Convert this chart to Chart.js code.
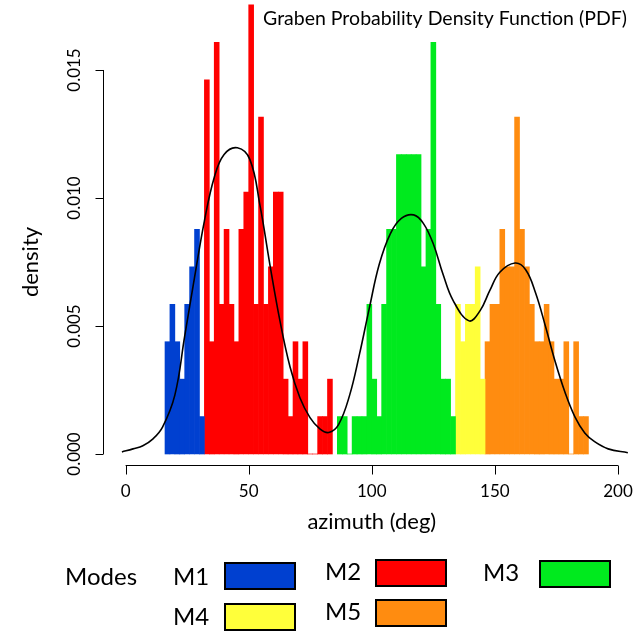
<!DOCTYPE html>
<html>
<head>
<meta charset="utf-8">
<script src="https://cdn.jsdelivr.net/npm/chart.js@4.4.1/dist/chart.umd.min.js"></script>
<style>
  html, body { margin: 0; padding: 0; background: #fff; }
  #wrap { width: 634px; height: 634px; }
</style>
</head>
<body>
<div id="wrap"><canvas id="pdf-chart" width="634" height="634"></canvas></div>
<script>
// histogram counts per mode, 2 degree bins starting at each mode's first edge
const binWidth = 2;
const modeNames = ["M1", "M2", "M3", "M4", "M5"];
const modeColors = ["#0040D0", "#FF0000", "#00EA1E", "#FFFF3A", "#FF8C10"];
const modeStarts = [16, 32, 86, 134, 146];
const m1Counts = [3, 4, 3, 2, 4, 5, 6, 1];
const m2Counts = [10, 3, 11, 4, 6, 4, 3, 6, 7, 12, 4, 9, 4, 5, 7, 7, 2, 1, 3, 2, 3, 0, 0, 1, 1, 2];
const m3Counts = [1, 1, 0, 1, 1, 1, 4, 2, 1, 4, 6, 6, 8, 8, 8, 8, 8, 5, 6, 11, 4, 2, 2, 1];
const m4Counts = [4, 3, 4, 4, 5, 2];
const m5Counts = [3, 4, 4, 6, 5, 5, 9, 6, 5, 4, 3, 3, 4, 3, 2, 2, 3, 0, 3, 1, 1];

// density curve
const curveX = [-1.5, 3, 7, 11, 15, 20, 24, 28, 32, 36, 40, 45.4, 50.5, 54.6, 58.6, 62.7, 66.8, 70.8, 74.9, 78.9, 82.5, 86.5, 91, 95, 99, 103, 107.5, 112, 117, 121, 125, 129, 133, 139.5, 144, 148, 152, 158.2, 162.5, 166.5, 170.5, 174.5, 178.5, 182.5, 186.5, 190.5, 196, 204];
const curveY = [0.00008, 0.0002, 0.00032, 0.00058, 0.00105, 0.0023, 0.0046, 0.0069, 0.0091, 0.0108, 0.0117, 0.01196, 0.0115, 0.0097, 0.0074, 0.0052, 0.0034, 0.0022, 0.00142, 0.00098, 0.00084, 0.00115, 0.0023, 0.0039, 0.0057, 0.0074, 0.0086, 0.0092, 0.00934, 0.0090, 0.0082, 0.0070, 0.0060, 0.0052, 0.0056, 0.0064, 0.0071, 0.00746, 0.0072, 0.0063, 0.0050, 0.0036, 0.0024, 0.00145, 0.00082, 0.00048, 0.0002, 0.00005];

// axis ticks
const xTicks = [0, 50, 100, 150, 200];
const xTickLabels = ["0", "50", "100", "150", "200"];
const yTicks = [0, 0.005, 0.010, 0.015];
const yTickLabels = ["0.000", "0.005", "0.010", "0.015"];

const allCounts = [m1Counts, m2Counts, m3Counts, m4Counts, m5Counts];
const totalCount = allCounts.flat().reduce((a, b) => a + b, 0);

const FONT = "Lato, 'Open Sans', sans-serif";

function modeData(start, counts) {
  return counts.map((c, i) => ({ x: start + binWidth * i + binWidth / 2, y: c / (totalCount * binWidth) }));
}

const datasets = allCounts.map((counts, k) => ({
  type: "bar",
  label: modeNames[k],
  data: modeData(modeStarts[k], counts),
  backgroundColor: modeColors[k],
  borderWidth: 0,
  barPercentage: 1,
  categoryPercentage: 1,
  grouped: false,
  order: 1
}));

datasets.push({
  type: "line",
  label: "PDF",
  data: curveX.map((x, i) => ({ x: x, y: curveY[i] })),
  borderColor: "#000",
  borderWidth: 1.6,
  pointRadius: 0,
  fill: false,
  tension: 0.4,
  order: 0
});

// R style axes, titles and the legend box
const rDecor = {
  id: "rDecor",
  afterDraw(chart) {
    const ctx = chart.ctx;
    const xs = chart.scales.x;
    const ys = chart.scales.y;
    ctx.save();
    ctx.strokeStyle = "#000";
    ctx.fillStyle = "#000";
    ctx.lineWidth = 1;

    // x axis
    const axY = 465.5;
    ctx.beginPath();
    ctx.moveTo(xs.getPixelForValue(xTicks[0]), axY);
    ctx.lineTo(xs.getPixelForValue(xTicks[xTicks.length - 1]), axY);
    xTicks.forEach((v) => {
      const px = Math.round(xs.getPixelForValue(v)) + 0.5;
      ctx.moveTo(px, axY);
      ctx.lineTo(px, axY + 9);
    });
    ctx.stroke();
    ctx.font = "17px " + FONT;
    ctx.textAlign = "center";
    ctx.textBaseline = "middle";
    xTicks.forEach((v, i) => ctx.fillText(xTickLabels[i], xs.getPixelForValue(v), 492));

    // y axis
    const axX = 103.5;
    ctx.beginPath();
    ctx.moveTo(axX, ys.getPixelForValue(yTicks[0]));
    ctx.lineTo(axX, ys.getPixelForValue(yTicks[yTicks.length - 1]));
    yTicks.forEach((v) => {
      const py = Math.round(ys.getPixelForValue(v)) + 0.5;
      ctx.moveTo(axX, py);
      ctx.lineTo(axX - 8, py);
    });
    ctx.stroke();
    yTicks.forEach((v, i) => {
      ctx.save();
      ctx.translate(75, ys.getPixelForValue(v));
      ctx.rotate(-Math.PI / 2);
      ctx.fillText(yTickLabels[i], 0, 0);
      ctx.restore();
    });

    // axis titles
    ctx.font = "22px " + FONT;
    ctx.fillText("azimuth (deg)", (xs.getPixelForValue(0) + xs.getPixelForValue(200)) / 2, 522);
    ctx.save();
    ctx.translate(31, (ys.getPixelForValue(0) + ys.getPixelForValue(0.015)) / 2);
    ctx.rotate(-Math.PI / 2);
    ctx.fillText("density", 0, 0);
    ctx.restore();

    // plot title
    ctx.font = "19.5px " + FONT;
    ctx.fillText("Graben Probability Density Function (PDF)", 445, 19);

    // legend
    ctx.font = "24px " + FONT;
    ctx.textAlign = "left";
    ctx.fillText("Modes", 65, 577);
    const legendPos = [
      { tx: 173, ty: 577, bx: 225, by: 563 },
      { tx: 325, ty: 572, bx: 376, by: 560 },
      { tx: 483, ty: 573, bx: 540, by: 561 },
      { tx: 173, ty: 617, bx: 225, by: 604 },
      { tx: 325, ty: 612, bx: 376, by: 600 }
    ];
    ctx.lineWidth = 2;
    modeNames.forEach((name, k) => {
      const p = legendPos[k];
      ctx.fillStyle = "#000";
      ctx.fillText(name, p.tx, p.ty);
      ctx.fillStyle = modeColors[k];
      ctx.fillRect(p.bx, p.by, 70, 26);
      ctx.strokeRect(p.bx, p.by, 70, 26);
    });
    ctx.restore();
  }
};

new Chart(document.getElementById("pdf-chart").getContext("2d"), {
  data: { datasets: datasets },
  options: {
    responsive: false,
    animation: false,
    layout: { padding: 0 },
    plugins: { legend: { display: false }, tooltip: { enabled: false } },
    scales: {
      x: { type: "linear", min: -51.02, max: 206.5, offset: false, display: false },
      y: { type: "linear", min: -0.0070313, max: 0.017734, display: false }
    }
  },
  plugins: [rDecor]
});
</script>
</body>
</html>
